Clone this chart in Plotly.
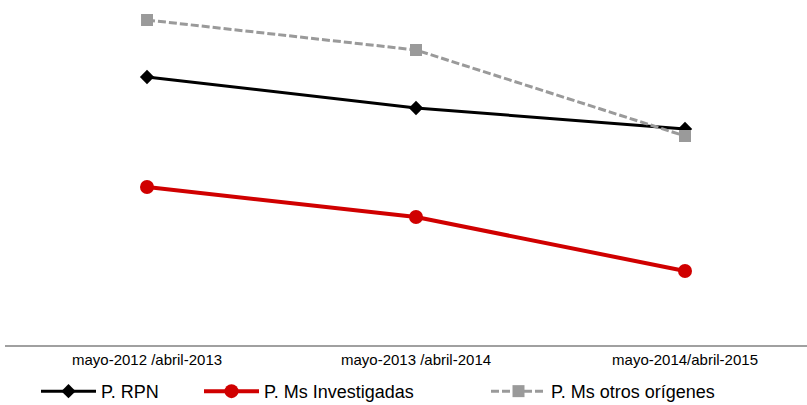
import plotly.graph_objects as go

categories = ["mayo-2012 /abril-2013", "mayo-2013 /abril-2014", "mayo-2014/abril-2015"]
rpn = [268, 237, 216]
investigadas = [158, 128, 74]
otros = [325, 295, 209]

x = [0, 1, 2]

fig = go.Figure()
fig.add_trace(go.Scatter(
    x=x, y=rpn, name="P. RPN", mode="lines+markers", legend="legend",
    line=dict(color="#000000", width=3),
    marker=dict(symbol="diamond", size=11, color="#000000"),
))
fig.add_trace(go.Scatter(
    x=x, y=investigadas, name="P. Ms Investigadas", mode="lines+markers", legend="legend2",
    line=dict(color="#d00000", width=4),
    marker=dict(symbol="circle", size=14, color="#d00000"),
))
fig.add_trace(go.Scatter(
    x=x, y=otros, name="P. Ms otros orígenes", mode="lines+markers", legend="legend3",
    line=dict(color="#9a9a9a", width=3, dash="8px,3px"),
    marker=dict(symbol="square", size=12, color="#9a9a9a"),
))

W = 802.0
def lx(px):
    return (px - 5) / W

leg_common = dict(orientation="h", y=-0.081, yanchor="top", xanchor="left",
                  font=dict(size=18), itemwidth=55, bgcolor="rgba(0,0,0,0)")

fig.update_layout(
    width=807, height=405,
    margin=dict(l=5, r=0, t=0, b=60, autoexpand=False),
    paper_bgcolor="white", plot_bgcolor="white",
    font=dict(family="Arial, Liberation Sans, sans-serif", color="#000000"),
    showlegend=True,
    legend=dict(x=lx(36), **leg_common),
    legend2=dict(x=lx(199), **leg_common),
    legend3=dict(x=lx(486), **leg_common),
    xaxis=dict(
        range=[-0.528, 2.4535], tickvals=x, ticktext=categories,
        showgrid=False, zeroline=False, showline=True,
        linecolor="#a0a0a0", linewidth=2, ticks="",
        tickfont=dict(size=15), fixedrange=True,
    ),
    yaxis=dict(
        range=[0, 345], showgrid=False, zeroline=False,
        showticklabels=False, showline=False, fixedrange=True,
    ),
)

fig.write_html(
    "out.html",
    config={"displayModeBar": False, "staticPlot": True},
    post_script="document.body.style.margin='0';document.body.style.overflow='hidden';",
)
